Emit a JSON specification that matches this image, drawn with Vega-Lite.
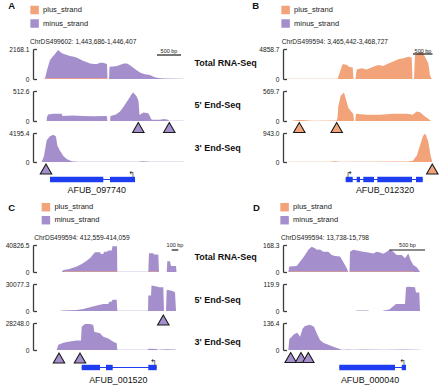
{
"$schema": "https://vega.github.io/schema/vega-lite/v6.json",
"background": "white",
"padding": {"left": 5, "top": 0, "right": 0, "bottom": 0},
"config": {
  "font": "Liberation Sans",
  "view": {"stroke": null},
  "axis": {"grid": false, "domainColor": "#3c3c3c", "domainWidth": 1.3, "tickColor": "#3c3c3c", "tickWidth": 1.3, "tickSize": -3.5, "labelPadding": 7.5, "labelFontSize": 6.6, "labelColor": "#222222", "labelFlush": false, "labelOverlap": false, "titleAngle": 0, "titleAlign": "left", "titleBaseline": "middle", "titleX": -89, "titleFontSize": 9, "titleFontWeight": "bold", "titleColor": "#111111"}
},
"datasets": {
  "strands": [{"strand": "plus_strand"}, {"strand": "minus_strand"}],
  "A_tot_m": [{"pos":200,"cov":0},{"pos":240,"cov":43},{"pos":280,"cov":650},{"pos":340,"cov":1366},{"pos":400,"cov":1648},{"pos":440,"cov":1800},{"pos":500,"cov":2100},{"pos":560,"cov":1908},{"pos":600,"cov":1821},{"pos":680,"cov":1734},{"pos":740,"cov":1669},{"pos":820,"cov":1604},{"pos":880,"cov":1539},{"pos":940,"cov":1431},{"pos":1000,"cov":1323},{"pos":1080,"cov":1214},{"pos":1140,"cov":1127},{"pos":1220,"cov":1084},{"pos":1280,"cov":1084},{"pos":1340,"cov":1171},{"pos":1400,"cov":1171},{"pos":1480,"cov":1084},{"pos":1490,"cov":0},{"pos":1520,"cov":0},{"pos":1530,"cov":889},{"pos":1600,"cov":911},{"pos":1680,"cov":932},{"pos":1760,"cov":1041},{"pos":1820,"cov":1127},{"pos":1880,"cov":1127},{"pos":1940,"cov":997},{"pos":2000,"cov":824},{"pos":2080,"cov":607},{"pos":2160,"cov":434},{"pos":2240,"cov":347},{"pos":2340,"cov":282},{"pos":2420,"cov":152},{"pos":2500,"cov":65},{"pos":2640,"cov":33},{"pos":3000,"cov":22},{"pos":3020,"cov":0}],
  "A_tot_p": [{"pos":240,"cov":0},{"pos":250,"cov":50},{"pos":1480,"cov":50},{"pos":1490,"cov":0}],
  "A_5_m": [{"pos":270,"cov":0},{"pos":280,"cov":70},{"pos":300,"cov":110},{"pos":406,"cov":123},{"pos":574,"cov":123},{"pos":590,"cov":87},{"pos":800,"cov":95},{"pos":1000,"cov":87},{"pos":1200,"cov":82},{"pos":1474,"cov":87},{"pos":1490,"cov":0},{"pos":1540,"cov":0},{"pos":1550,"cov":87},{"pos":1660,"cov":113},{"pos":1740,"cov":164},{"pos":1800,"cov":231},{"pos":1840,"cov":282},{"pos":1906,"cov":369},{"pos":1974,"cov":461},{"pos":2006,"cov":487},{"pos":2074,"cov":420},{"pos":2110,"cov":343},{"pos":2130,"cov":103},{"pos":2206,"cov":144},{"pos":2306,"cov":133},{"pos":2340,"cov":77},{"pos":2374,"cov":20},{"pos":2540,"cov":20},{"pos":2620,"cov":35},{"pos":2700,"cov":20},{"pos":2720,"cov":5},{"pos":3000,"cov":5},{"pos":3020,"cov":0}],
  "A_3_m": [{"pos":174,"cov":0},{"pos":220,"cov":881},{"pos":274,"cov":3146},{"pos":340,"cov":3734},{"pos":406,"cov":3950},{"pos":460,"cov":3692},{"pos":486,"cov":2391},{"pos":540,"cov":1636},{"pos":606,"cov":881},{"pos":674,"cov":420},{"pos":774,"cov":126},{"pos":900,"cov":42},{"pos":2100,"cov":42},{"pos":2200,"cov":105},{"pos":2340,"cov":42},{"pos":3000,"cov":34},{"pos":3020,"cov":0}],
  "B_tot_p": [{"pos":40,"cov":0},{"pos":50,"cov":49},{"pos":1100,"cov":49},{"pos":1106,"cov":389},{"pos":1140,"cov":1118},{"pos":1180,"cov":2186},{"pos":1206,"cov":2429},{"pos":1274,"cov":2284},{"pos":1340,"cov":1895},{"pos":1394,"cov":1895},{"pos":1410,"cov":0},{"pos":1450,"cov":0},{"pos":1474,"cov":1555},{"pos":1574,"cov":1749},{"pos":1674,"cov":1555},{"pos":1806,"cov":1992},{"pos":1906,"cov":2284},{"pos":2006,"cov":2089},{"pos":2106,"cov":2527},{"pos":2206,"cov":2818},{"pos":2306,"cov":3207},{"pos":2406,"cov":3352},{"pos":2506,"cov":3595},{"pos":2574,"cov":3498},{"pos":2590,"cov":0},{"pos":2620,"cov":0},{"pos":2640,"cov":3887},{"pos":2706,"cov":4178},{"pos":2754,"cov":4421},{"pos":2790,"cov":4276},{"pos":2840,"cov":3595},{"pos":2906,"cov":2527},{"pos":2940,"cov":583},{"pos":2974,"cov":0}],
  "B_5_p": [{"pos":170,"cov":0},{"pos":180,"cov":6},{"pos":300,"cov":17},{"pos":380,"cov":17},{"pos":600,"cov":6},{"pos":1074,"cov":11},{"pos":1090,"cov":57},{"pos":1106,"cov":279},{"pos":1154,"cov":479},{"pos":1220,"cov":541},{"pos":1260,"cov":410},{"pos":1306,"cov":251},{"pos":1374,"cov":165},{"pos":1406,"cov":137},{"pos":1420,"cov":0},{"pos":1446,"cov":0},{"pos":1460,"cov":137},{"pos":1674,"cov":120},{"pos":1940,"cov":120},{"pos":2206,"cov":137},{"pos":2474,"cov":137},{"pos":2594,"cov":120},{"pos":2674,"cov":182},{"pos":2740,"cov":165},{"pos":2840,"cov":85},{"pos":2940,"cov":17},{"pos":2960,"cov":0}],
  "B_3_p": [{"pos":100,"cov":0},{"pos":110,"cov":9},{"pos":940,"cov":9},{"pos":1040,"cov":28},{"pos":1140,"cov":9},{"pos":2500,"cov":19},{"pos":2600,"cov":38},{"pos":2640,"cov":141},{"pos":2674,"cov":198},{"pos":2740,"cov":538},{"pos":2794,"cov":820},{"pos":2830,"cov":915},{"pos":2860,"cov":877},{"pos":2906,"cov":660},{"pos":2954,"cov":198},{"pos":2986,"cov":0}],
  "C_tot_m": [{"pos":574,"cov":0},{"pos":606,"cov":2858},{"pos":706,"cov":4083},{"pos":774,"cov":5716},{"pos":874,"cov":8165},{"pos":974,"cov":12248},{"pos":1074,"cov":17147},{"pos":1154,"cov":22046},{"pos":1180,"cov":24496},{"pos":1240,"cov":29803},{"pos":1340,"cov":29803},{"pos":1360,"cov":27354},{"pos":1406,"cov":27354},{"pos":1420,"cov":30620},{"pos":1486,"cov":30620},{"pos":1500,"cov":32661},{"pos":1574,"cov":32661},{"pos":1590,"cov":38785},{"pos":1680,"cov":38785},{"pos":1686,"cov":408},{"pos":2306,"cov":408},{"pos":2320,"cov":28170},{"pos":2406,"cov":28170},{"pos":2420,"cov":26537},{"pos":2506,"cov":26537},{"pos":2520,"cov":0},{"pos":2674,"cov":0},{"pos":2686,"cov":16331},{"pos":2740,"cov":16331},{"pos":2760,"cov":8982},{"pos":2860,"cov":8982},{"pos":2870,"cov":0}],
  "C_tot_p": [{"pos":606,"cov":0},{"pos":620,"cov":700},{"pos":1670,"cov":700},{"pos":1686,"cov":0},{"pos":2306,"cov":0},{"pos":2320,"cov":700},{"pos":2506,"cov":700},{"pos":2520,"cov":0}],
  "C_5_m": [{"pos":540,"cov":0},{"pos":574,"cov":602},{"pos":874,"cov":1203},{"pos":1006,"cov":2105},{"pos":1140,"cov":4211},{"pos":1274,"cov":6015},{"pos":1406,"cov":7820},{"pos":1506,"cov":7820},{"pos":1520,"cov":9926},{"pos":1574,"cov":10500},{"pos":1590,"cov":12632},{"pos":1674,"cov":12632},{"pos":1686,"cov":301},{"pos":2300,"cov":301},{"pos":2306,"cov":17144},{"pos":2360,"cov":17144},{"pos":2370,"cov":28273},{"pos":2474,"cov":27370},{"pos":2526,"cov":26468},{"pos":2606,"cov":26468},{"pos":2620,"cov":0},{"pos":2660,"cov":0},{"pos":2674,"cov":23761},{"pos":2774,"cov":22558},{"pos":2840,"cov":20753},{"pos":2860,"cov":0}],
  "C_3_m": [{"pos":474,"cov":0},{"pos":506,"cov":5367},{"pos":606,"cov":7627},{"pos":706,"cov":8757},{"pos":874,"cov":9887},{"pos":960,"cov":9887},{"pos":974,"cov":24293},{"pos":1040,"cov":27118},{"pos":1140,"cov":27118},{"pos":1206,"cov":26271},{"pos":1226,"cov":19209},{"pos":1340,"cov":17514},{"pos":1406,"cov":13842},{"pos":1506,"cov":12147},{"pos":1606,"cov":8757},{"pos":1674,"cov":7062},{"pos":1686,"cov":282},{"pos":2300,"cov":282},{"pos":2310,"cov":1412},{"pos":2480,"cov":1130},{"pos":2490,"cov":282},{"pos":2674,"cov":847},{"pos":2840,"cov":565},{"pos":2860,"cov":0}],
  "D_tot_m": [{"pos":106,"cov":0},{"pos":126,"cov":34},{"pos":274,"cov":37},{"pos":340,"cov":64},{"pos":394,"cov":86},{"pos":440,"cov":106},{"pos":506,"cov":138},{"pos":574,"cov":158},{"pos":640,"cov":148},{"pos":674,"cov":138},{"pos":740,"cov":141},{"pos":806,"cov":126},{"pos":906,"cov":126},{"pos":974,"cov":106},{"pos":1040,"cov":99},{"pos":1140,"cov":96},{"pos":1220,"cov":54},{"pos":1286,"cov":17},{"pos":1300,"cov":0},{"pos":1330,"cov":0},{"pos":1340,"cov":126},{"pos":1406,"cov":138},{"pos":1506,"cov":133},{"pos":1606,"cov":126},{"pos":1706,"cov":121},{"pos":1806,"cov":116},{"pos":1874,"cov":126},{"pos":1940,"cov":121},{"pos":2006,"cov":113},{"pos":2074,"cov":126},{"pos":2140,"cov":141},{"pos":2206,"cov":126},{"pos":2274,"cov":106},{"pos":2374,"cov":106},{"pos":2440,"cov":86},{"pos":2506,"cov":116},{"pos":2554,"cov":74},{"pos":2606,"cov":44},{"pos":2674,"cov":29},{"pos":2726,"cov":8},{"pos":2740,"cov":0}],
  "D_tot_p": [{"pos":126,"cov":0},{"pos":140,"cov":3},{"pos":1280,"cov":3},{"pos":1300,"cov":0},{"pos":1330,"cov":0},{"pos":1340,"cov":3},{"pos":2600,"cov":3},{"pos":2620,"cov":0}],
  "D_5_m": [{"pos":1460,"cov":0},{"pos":1474,"cov":2.4},{"pos":1706,"cov":2.4},{"pos":1720,"cov":0},{"pos":2000,"cov":0},{"pos":2010,"cov":2.4},{"pos":2126,"cov":7},{"pos":2260,"cov":31},{"pos":2440,"cov":31},{"pos":2460,"cov":106},{"pos":2506,"cov":108},{"pos":2640,"cov":106},{"pos":2660,"cov":82},{"pos":2726,"cov":82},{"pos":2740,"cov":0}],
  "D_3_m": [{"pos":106,"cov":0},{"pos":126,"cov":55},{"pos":174,"cov":67},{"pos":220,"cov":80},{"pos":286,"cov":87},{"pos":320,"cov":75},{"pos":340,"cov":67},{"pos":394,"cov":109},{"pos":440,"cov":121},{"pos":540,"cov":127},{"pos":620,"cov":117},{"pos":674,"cov":85},{"pos":740,"cov":50},{"pos":806,"cov":37},{"pos":906,"cov":26},{"pos":1006,"cov":16},{"pos":1106,"cov":8},{"pos":1174,"cov":1.4},{"pos":1300,"cov":3},{"pos":1400,"cov":1.4},{"pos":1600,"cov":3},{"pos":2000,"cov":1.4},{"pos":2400,"cov":3},{"pos":2700,"cov":1.4},{"pos":2800,"cov":0}],
  "bars": [{"panel":"A","start":2480,"end":2960,"mid":2720,"label":"500 bp"},{"panel":"B","start":2600,"end":2990,"mid":2800,"label":"500 bp"},{"panel":"C","start":2774,"end":2906,"mid":2840,"label":"100 bp"},{"panel":"D","start":2130,"end":2840,"mid":2490,"label":"500 bp"}],
  "tri": [{"panel":"A","track":"5p","pos":2106},{"panel":"A","track":"5p","pos":2726},{"panel":"A","track":"3p","pos":260},{"panel":"B","track":"5p","pos":326},{"panel":"B","track":"5p","pos":1074},{"panel":"B","track":"3p","pos":2986},{"panel":"C","track":"5p","pos":2606},{"panel":"C","track":"3p","pos":520},{"panel":"C","track":"3p","pos":940},{"panel":"D","track":"3p","pos":154},{"panel":"D","track":"3p","pos":360},{"panel":"D","track":"3p","pos":506}],
  "genes": [{"panel":"A","gene":"AFUB_097740","start":340,"end":2040,"tss":2040,"mid":1274},{"panel":"B","gene":"AFUB_012320","start":1254,"end":2794,"tss":1254,"mid":2040},{"panel":"C","gene":"AFUB_001520","start":974,"end":2474,"tss":2474,"mid":1706},{"panel":"D","gene":"AFUB_000040","start":1126,"end":2460,"tss":2460,"mid":1740}],
  "exons": [{"panel":"A","gene":"AFUB_097740","start":340,"end":1406},{"panel":"A","gene":"AFUB_097740","start":1540,"end":2040},{"panel":"B","gene":"AFUB_012320","start":1254,"end":1394},{"panel":"B","gene":"AFUB_012320","start":1474,"end":1540},{"panel":"B","gene":"AFUB_012320","start":1606,"end":1820},{"panel":"B","gene":"AFUB_012320","start":1886,"end":2580},{"panel":"B","gene":"AFUB_012320","start":2660,"end":2794},{"panel":"C","gene":"AFUB_001520","start":974,"end":1340},{"panel":"C","gene":"AFUB_001520","start":1460,"end":1594},{"panel":"C","gene":"AFUB_001520","start":2306,"end":2474},{"panel":"D","gene":"AFUB_000040","start":1126,"end":2240},{"panel":"D","gene":"AFUB_000040","start":2374,"end":2460}]
},
"columns": 2,
"bounds": "flush",
"spacing": {"row": 12, "column": 98},
"resolve": {"scale": {"x": "independent", "y": "independent", "color": "independent"}, "legend": {"color": "independent"}, "axis": {"x": "independent", "y": "independent"}},
"concat": [
  {"width": 152, "height": 37,
   "title": {"text": "ChrDS499602: 1,443,686-1,446,407", "orient": "bottom", "anchor": "start", "frame": "group", "offset": 2.4, "dx": -3, "fontSize": 6.6, "fontWeight": "normal", "color": "#222222"},
   "data": {"name": "strands"}, "transform": [{"filter": "false"}],
   "mark": {"type": "square", "opacity": 1},
   "encoding": {"color": {"field": "strand", "type": "nominal", "scale": {"domain": ["plus_strand", "minus_strand"], "range": ["#F3A37A", "#A48FCC"]},
     "legend": {"title": "A", "orient": "none", "legendX": -24.7, "legendY": 5.5, "titleOrient": "left", "titleAnchor": "start", "titleBaseline": "middle", "titleFontSize": 9.5, "titleFontWeight": "bold", "titleColor": "#111111", "titlePadding": 14.8, "symbolType": "square", "symbolSize": 72, "symbolStrokeWidth": 0, "symbolOpacity": 1, "labelFontSize": 7.5, "labelColor": "#222222", "labelOffset": 4, "rowPadding": 4.5, "padding": 0}}}},
  {"width": 152, "height": 37,
   "title": {"text": "ChrDS499594: 3,465,442-3,468,727", "orient": "bottom", "anchor": "start", "frame": "group", "offset": 2.4, "dx": -1.3, "fontSize": 6.6, "fontWeight": "normal", "color": "#222222"},
   "data": {"name": "strands"}, "transform": [{"filter": "false"}],
   "mark": {"type": "square", "opacity": 1},
   "encoding": {"color": {"field": "strand", "type": "nominal", "scale": {"domain": ["plus_strand", "minus_strand"], "range": ["#F3A37A", "#A48FCC"]},
     "legend": {"title": "B", "orient": "none", "legendX": -30.7, "legendY": 5.5, "titleOrient": "left", "titleAnchor": "start", "titleBaseline": "middle", "titleFontSize": 9.5, "titleFontWeight": "bold", "titleColor": "#111111", "titlePadding": 21.8, "symbolType": "square", "symbolSize": 72, "symbolStrokeWidth": 0, "symbolOpacity": 1, "labelFontSize": 7.5, "labelColor": "#222222", "labelOffset": 4, "rowPadding": 4.5, "padding": 0}}}},
  {"width": 152, "height": 30,
   "layer": [
    {"data": {"name": "A_tot_m"}, "mark": {"type": "area", "opacity": 1},
     "encoding": {"x": {"field": "pos", "type": "quantitative", "scale": {"domain": [0, 3040], "nice": false, "zero": false}, "axis": null},
      "y": {"field": "cov", "type": "quantitative", "stack": null, "scale": {"domain": [0, 2168.1], "nice": false, "clamp": true}, "axis": {"values": [0, 2168.1], "title": null, "labelExpr": "datum.value == 0 ? '0' : format(datum.value, '.1f')"}},
      "color": {"datum": "minus_strand", "type": "nominal", "scale": {"domain": ["plus_strand", "minus_strand"], "range": ["#F3A37A", "#A48FCC"]}, "legend": null}}},
    {"data": {"name": "A_tot_p"}, "mark": {"type": "area", "opacity": 1},
     "encoding": {"x": {"field": "pos", "type": "quantitative", "axis": null}, "y": {"field": "cov", "type": "quantitative", "stack": null}, "color": {"datum": "plus_strand", "type": "nominal", "legend": null}}},
    {"data": {"name": "bars"}, "transform": [{"filter": "datum.panel == 'A'"}], "mark": {"type": "rule", "color": "#1a1a1a", "strokeWidth": 1.2, "yOffset": 6},
     "encoding": {"x": {"field": "start", "type": "quantitative", "axis": null}, "x2": {"field": "end"}, "y": {"datum": 2168.1, "type": "quantitative"}}},
    {"data": {"name": "bars"}, "transform": [{"filter": "datum.panel == 'A'"}], "mark": {"type": "text", "fontSize": 5.5, "color": "#1a1a1a", "baseline": "middle", "yOffset": 2},
     "encoding": {"x": {"field": "mid", "type": "quantitative", "axis": null}, "y": {"datum": 2168.1, "type": "quantitative"}, "text": {"field": "label", "type": "nominal"}}}
   ]},
  {"width": 152, "height": 30,
   "layer": [
    {"data": {"name": "B_tot_p"}, "mark": {"type": "area", "opacity": 1},
     "encoding": {"x": {"field": "pos", "type": "quantitative", "scale": {"domain": [0, 3040], "nice": false, "zero": false}, "axis": null},
      "y": {"field": "cov", "type": "quantitative", "stack": null, "scale": {"domain": [0, 4858.7], "nice": false, "clamp": true}, "axis": {"values": [0, 4858.7], "title": "Total RNA-Seq", "titleY": 13, "labelExpr": "datum.value == 0 ? '0' : format(datum.value, '.1f')"}},
      "color": {"datum": "plus_strand", "type": "nominal", "scale": {"domain": ["plus_strand", "minus_strand"], "range": ["#F3A37A", "#A48FCC"]}, "legend": null}}},
    {"data": {"name": "bars"}, "transform": [{"filter": "datum.panel == 'B'"}], "mark": {"type": "rule", "color": "#1a1a1a", "strokeWidth": 1.2, "yOffset": 5},
     "encoding": {"x": {"field": "start", "type": "quantitative", "axis": null}, "x2": {"field": "end"}, "y": {"datum": 4858.7, "type": "quantitative"}}},
    {"data": {"name": "bars"}, "transform": [{"filter": "datum.panel == 'B'"}], "mark": {"type": "text", "fontSize": 5.5, "color": "#1a1a1a", "baseline": "middle", "yOffset": 1.5},
     "encoding": {"x": {"field": "mid", "type": "quantitative", "axis": null}, "y": {"datum": 4858.7, "type": "quantitative"}, "text": {"field": "label", "type": "nominal"}}}
   ]},
  {"width": 152, "height": 30,
   "layer": [
    {"data": {"name": "A_5_m"}, "mark": {"type": "area", "opacity": 1},
     "encoding": {"x": {"field": "pos", "type": "quantitative", "scale": {"domain": [0, 3040], "nice": false, "zero": false}, "axis": null},
      "y": {"field": "cov", "type": "quantitative", "stack": null, "scale": {"domain": [0, 512.6], "nice": false, "clamp": true}, "axis": {"values": [0, 512.6], "title": null, "labelExpr": "datum.value == 0 ? '0' : format(datum.value, '.1f')"}},
      "color": {"datum": "minus_strand", "type": "nominal", "scale": {"domain": ["plus_strand", "minus_strand"], "range": ["#F3A37A", "#A48FCC"]}, "legend": null}}},
    {"data": {"name": "tri"}, "transform": [{"filter": "datum.panel == 'A' && datum.track == '5p'"}],
     "mark": {"type": "point", "shape": "triangle-up", "filled": true, "size": 130, "opacity": 1, "stroke": "#1a1a1a", "strokeWidth": 1.1, "yOffset": 6.5},
     "encoding": {"x": {"field": "pos", "type": "quantitative", "axis": null}, "y": {"datum": 0, "type": "quantitative"}, "color": {"datum": "minus_strand", "type": "nominal", "legend": null}}}
   ]},
  {"width": 152, "height": 30,
   "layer": [
    {"data": {"name": "B_5_p"}, "mark": {"type": "area", "opacity": 1},
     "encoding": {"x": {"field": "pos", "type": "quantitative", "scale": {"domain": [0, 3040], "nice": false, "zero": false}, "axis": null},
      "y": {"field": "cov", "type": "quantitative", "stack": null, "scale": {"domain": [0, 569.7], "nice": false, "clamp": true}, "axis": {"values": [0, 569.7], "title": "5' End-Seq", "titleY": 13, "labelExpr": "datum.value == 0 ? '0' : format(datum.value, '.1f')"}},
      "color": {"datum": "plus_strand", "type": "nominal", "scale": {"domain": ["plus_strand", "minus_strand"], "range": ["#F3A37A", "#A48FCC"]}, "legend": null}}},
    {"data": {"name": "tri"}, "transform": [{"filter": "datum.panel == 'B' && datum.track == '5p'"}],
     "mark": {"type": "point", "shape": "triangle-up", "filled": true, "size": 130, "opacity": 1, "stroke": "#1a1a1a", "strokeWidth": 1.1, "yOffset": 6.5},
     "encoding": {"x": {"field": "pos", "type": "quantitative", "axis": null}, "y": {"datum": 0, "type": "quantitative"}, "color": {"datum": "plus_strand", "type": "nominal", "legend": null}}}
   ]},
  {"width": 152, "height": 29,
   "layer": [
    {"data": {"name": "A_3_m"}, "mark": {"type": "area", "opacity": 1},
     "encoding": {"x": {"field": "pos", "type": "quantitative", "scale": {"domain": [0, 3040], "nice": false, "zero": false}, "axis": null},
      "y": {"field": "cov", "type": "quantitative", "stack": null, "scale": {"domain": [0, 4195.4], "nice": false, "clamp": true}, "axis": {"values": [0, 4195.4], "title": null, "labelExpr": "datum.value == 0 ? '0' : format(datum.value, '.1f')"}},
      "color": {"datum": "minus_strand", "type": "nominal", "scale": {"domain": ["plus_strand", "minus_strand"], "range": ["#F3A37A", "#A48FCC"]}, "legend": null}}},
    {"data": {"name": "tri"}, "transform": [{"filter": "datum.panel == 'A' && datum.track == '3p'"}],
     "mark": {"type": "point", "shape": "triangle-up", "filled": true, "size": 130, "opacity": 1, "stroke": "#1a1a1a", "strokeWidth": 1.1, "yOffset": 7},
     "encoding": {"x": {"field": "pos", "type": "quantitative", "axis": null}, "y": {"datum": 0, "type": "quantitative"}, "color": {"datum": "minus_strand", "type": "nominal", "legend": null}}}
   ]},
  {"width": 152, "height": 29,
   "layer": [
    {"data": {"name": "B_3_p"}, "mark": {"type": "area", "opacity": 1},
     "encoding": {"x": {"field": "pos", "type": "quantitative", "scale": {"domain": [0, 3040], "nice": false, "zero": false}, "axis": null},
      "y": {"field": "cov", "type": "quantitative", "stack": null, "scale": {"domain": [0, 943.0], "nice": false, "clamp": true}, "axis": {"values": [0, 943.0], "title": "3' End-Seq", "titleY": 14.3, "labelExpr": "datum.value == 0 ? '0' : format(datum.value, '.1f')"}},
      "color": {"datum": "plus_strand", "type": "nominal", "scale": {"domain": ["plus_strand", "minus_strand"], "range": ["#F3A37A", "#A48FCC"]}, "legend": null}}},
    {"data": {"name": "tri"}, "transform": [{"filter": "datum.panel == 'B' && datum.track == '3p'"}],
     "mark": {"type": "point", "shape": "triangle-up", "filled": true, "size": 130, "opacity": 1, "stroke": "#1a1a1a", "strokeWidth": 1.1, "yOffset": 7},
     "encoding": {"x": {"field": "pos", "type": "quantitative", "axis": null}, "y": {"datum": 0, "type": "quantitative"}, "color": {"datum": "plus_strand", "type": "nominal", "legend": null}}}
   ]},
  {"width": 152, "height": 11,
   "layer": [
    {"data": {"name": "genes"}, "transform": [{"filter": "datum.panel == 'A'"}], "mark": {"type": "rule", "color": "#1e3cf0", "strokeWidth": 1.2},
     "encoding": {"x": {"field": "start", "type": "quantitative", "scale": {"domain": [0, 3040], "nice": false, "zero": false}, "axis": null}, "x2": {"field": "end"}, "y": {"field": "gene", "type": "nominal", "scale": {"paddingOuter": 0.52, "paddingInner": 0}, "axis": null}}},
    {"data": {"name": "exons"}, "transform": [{"filter": "datum.panel == 'A'"}], "mark": {"type": "rect", "color": "#1e3cf0"},
     "encoding": {"x": {"field": "start", "type": "quantitative", "axis": null}, "x2": {"field": "end"}, "y": {"field": "gene", "type": "nominal", "axis": null}}},
    {"data": {"name": "genes"}, "transform": [{"filter": "datum.panel == 'A'"}], "mark": {"type": "text", "text": "↰", "align": "right", "baseline": "alphabetic", "dy": -2.7, "fontSize": 8, "font": "DejaVu Sans", "color": "#333333"},
     "encoding": {"x": {"field": "tss", "type": "quantitative", "axis": null}, "y": {"field": "gene", "type": "nominal", "axis": null}}},
    {"data": {"name": "genes"}, "transform": [{"filter": "datum.panel == 'A'"}], "mark": {"type": "text", "baseline": "middle", "dy": 10.5, "fontSize": 8.9, "color": "#111111"},
     "encoding": {"x": {"field": "mid", "type": "quantitative", "axis": null}, "y": {"field": "gene", "type": "nominal", "axis": null}, "text": {"field": "gene", "type": "nominal"}}}
   ]},
  {"width": 152, "height": 11,
   "layer": [
    {"data": {"name": "genes"}, "transform": [{"filter": "datum.panel == 'B'"}], "mark": {"type": "rule", "color": "#1e3cf0", "strokeWidth": 1.2},
     "encoding": {"x": {"field": "start", "type": "quantitative", "scale": {"domain": [0, 3040], "nice": false, "zero": false}, "axis": null}, "x2": {"field": "end"}, "y": {"field": "gene", "type": "nominal", "scale": {"paddingOuter": 0.52, "paddingInner": 0}, "axis": null}}},
    {"data": {"name": "exons"}, "transform": [{"filter": "datum.panel == 'B'"}], "mark": {"type": "rect", "color": "#1e3cf0"},
     "encoding": {"x": {"field": "start", "type": "quantitative", "axis": null}, "x2": {"field": "end"}, "y": {"field": "gene", "type": "nominal", "axis": null}}},
    {"data": {"name": "genes"}, "transform": [{"filter": "datum.panel == 'B'"}], "mark": {"type": "text", "text": "↱", "align": "left", "baseline": "alphabetic", "dy": -2.7, "fontSize": 8, "font": "DejaVu Sans", "color": "#333333"},
     "encoding": {"x": {"field": "tss", "type": "quantitative", "axis": null}, "y": {"field": "gene", "type": "nominal", "axis": null}}},
    {"data": {"name": "genes"}, "transform": [{"filter": "datum.panel == 'B'"}], "mark": {"type": "text", "baseline": "middle", "dy": 10.5, "fontSize": 8.9, "color": "#111111"},
     "encoding": {"x": {"field": "mid", "type": "quantitative", "axis": null}, "y": {"field": "gene", "type": "nominal", "axis": null}, "text": {"field": "gene", "type": "nominal"}}}
   ]},
  {"width": 152, "height": 36,
   "title": {"text": "ChrDS499594: 412,559-414,059", "orient": "bottom", "anchor": "start", "frame": "group", "offset": 2.4, "dx": 1.3, "fontSize": 6.6, "fontWeight": "normal", "color": "#222222"},
   "data": {"name": "strands"}, "transform": [{"filter": "false"}],
   "mark": {"type": "square", "opacity": 1},
   "encoding": {"color": {"field": "strand", "type": "nominal", "scale": {"domain": ["plus_strand", "minus_strand"], "range": ["#F3A37A", "#A48FCC"]},
     "legend": {"title": "C", "orient": "none", "legendX": -24.7, "legendY": 5.7, "titleOrient": "left", "titleAnchor": "start", "titleBaseline": "top", "titleFontSize": 9.5, "titleFontWeight": "bold", "titleColor": "#111111", "titlePadding": 26.1, "symbolType": "square", "symbolSize": 72, "symbolStrokeWidth": 0, "symbolOpacity": 1, "labelFontSize": 7.5, "labelColor": "#222222", "labelOffset": 4, "rowPadding": 4, "padding": 0}}}},
  {"width": 152, "height": 36,
   "title": {"text": "ChrDS499594: 13,738-15,798", "orient": "bottom", "anchor": "start", "frame": "group", "offset": 2.4, "dx": -2, "fontSize": 6.6, "fontWeight": "normal", "color": "#222222"},
   "data": {"name": "strands"}, "transform": [{"filter": "false"}],
   "mark": {"type": "square", "opacity": 1},
   "encoding": {"color": {"field": "strand", "type": "nominal", "scale": {"domain": ["plus_strand", "minus_strand"], "range": ["#F3A37A", "#A48FCC"]},
     "legend": {"title": "D", "orient": "none", "legendX": -30, "legendY": 5.7, "titleOrient": "left", "titleAnchor": "start", "titleBaseline": "top", "titleFontSize": 9.5, "titleFontWeight": "bold", "titleColor": "#111111", "titlePadding": 20.1, "symbolType": "square", "symbolSize": 72, "symbolStrokeWidth": 0, "symbolOpacity": 1, "labelFontSize": 7.5, "labelColor": "#222222", "labelOffset": 4, "rowPadding": 4, "padding": 0}}}},
  {"width": 152, "height": 27,
   "layer": [
    {"data": {"name": "C_tot_m"}, "mark": {"type": "area", "opacity": 1},
     "encoding": {"x": {"field": "pos", "type": "quantitative", "scale": {"domain": [0, 3040], "nice": false, "zero": false}, "axis": null},
      "y": {"field": "cov", "type": "quantitative", "stack": null, "scale": {"domain": [0, 40826.5], "nice": false, "clamp": true}, "axis": {"values": [0, 40826.5], "title": null, "labelExpr": "datum.value == 0 ? '0' : format(datum.value, '.1f')"}},
      "color": {"datum": "minus_strand", "type": "nominal", "scale": {"domain": ["plus_strand", "minus_strand"], "range": ["#F3A37A", "#A48FCC"]}, "legend": null}}},
    {"data": {"name": "C_tot_p"}, "mark": {"type": "area", "opacity": 1},
     "encoding": {"x": {"field": "pos", "type": "quantitative", "axis": null}, "y": {"field": "cov", "type": "quantitative", "stack": null}, "color": {"datum": "plus_strand", "type": "nominal", "legend": null}}},
    {"data": {"name": "bars"}, "transform": [{"filter": "datum.panel == 'C'"}], "mark": {"type": "rule", "color": "#1a1a1a", "strokeWidth": 1.2, "yOffset": 5},
     "encoding": {"x": {"field": "start", "type": "quantitative", "axis": null}, "x2": {"field": "end"}, "y": {"datum": 40826.5, "type": "quantitative"}}},
    {"data": {"name": "bars"}, "transform": [{"filter": "datum.panel == 'C'"}], "mark": {"type": "text", "fontSize": 5.5, "color": "#1a1a1a", "baseline": "middle", "yOffset": 0},
     "encoding": {"x": {"field": "mid", "type": "quantitative", "axis": null}, "y": {"datum": 40826.5, "type": "quantitative"}, "text": {"field": "label", "type": "nominal"}}}
   ]},
  {"width": 152, "height": 27,
   "layer": [
    {"data": {"name": "D_tot_m"}, "mark": {"type": "area", "opacity": 1},
     "encoding": {"x": {"field": "pos", "type": "quantitative", "scale": {"domain": [0, 3040], "nice": false, "zero": false}, "axis": null},
      "y": {"field": "cov", "type": "quantitative", "stack": null, "scale": {"domain": [0, 168.3], "nice": false, "clamp": true}, "axis": {"values": [0, 168.3], "title": "Total RNA-Seq", "titleY": 11.7, "labelExpr": "datum.value == 0 ? '0' : format(datum.value, '.1f')"}},
      "color": {"datum": "minus_strand", "type": "nominal", "scale": {"domain": ["plus_strand", "minus_strand"], "range": ["#F3A37A", "#A48FCC"]}, "legend": null}}},
    {"data": {"name": "D_tot_p"}, "mark": {"type": "area", "opacity": 1},
     "encoding": {"x": {"field": "pos", "type": "quantitative", "axis": null}, "y": {"field": "cov", "type": "quantitative", "stack": null}, "color": {"datum": "plus_strand", "type": "nominal", "legend": null}}},
    {"data": {"name": "bars"}, "transform": [{"filter": "datum.panel == 'D'"}], "mark": {"type": "rule", "color": "#1a1a1a", "strokeWidth": 1.2, "yOffset": 5},
     "encoding": {"x": {"field": "start", "type": "quantitative", "axis": null}, "x2": {"field": "end"}, "y": {"datum": 168.3, "type": "quantitative"}}},
    {"data": {"name": "bars"}, "transform": [{"filter": "datum.panel == 'D'"}], "mark": {"type": "text", "fontSize": 5.5, "color": "#1a1a1a", "baseline": "middle", "yOffset": 0},
     "encoding": {"x": {"field": "mid", "type": "quantitative", "axis": null}, "y": {"datum": 168.3, "type": "quantitative"}, "text": {"field": "label", "type": "nominal"}}}
   ]},
  {"width": 152, "height": 27,
   "layer": [
    {"data": {"name": "C_5_m"}, "mark": {"type": "area", "opacity": 1},
     "encoding": {"x": {"field": "pos", "type": "quantitative", "scale": {"domain": [0, 3040], "nice": false, "zero": false}, "axis": null},
      "y": {"field": "cov", "type": "quantitative", "stack": null, "scale": {"domain": [0, 30077.3], "nice": false, "clamp": true}, "axis": {"values": [0, 30077.3], "title": null, "labelExpr": "datum.value == 0 ? '0' : format(datum.value, '.1f')"}},
      "color": {"datum": "minus_strand", "type": "nominal", "scale": {"domain": ["plus_strand", "minus_strand"], "range": ["#F3A37A", "#A48FCC"]}, "legend": null}}},
    {"data": {"name": "tri"}, "transform": [{"filter": "datum.panel == 'C' && datum.track == '5p'"}],
     "mark": {"type": "point", "shape": "triangle-up", "filled": true, "size": 130, "opacity": 1, "stroke": "#1a1a1a", "strokeWidth": 1.1, "yOffset": 9},
     "encoding": {"x": {"field": "pos", "type": "quantitative", "axis": null}, "y": {"datum": 0, "type": "quantitative"}, "color": {"datum": "minus_strand", "type": "nominal", "legend": null}}}
   ]},
  {"width": 152, "height": 27,
   "layer": [
    {"data": {"name": "D_5_m"}, "mark": {"type": "area", "opacity": 1},
     "encoding": {"x": {"field": "pos", "type": "quantitative", "scale": {"domain": [0, 3040], "nice": false, "zero": false}, "axis": null},
      "y": {"field": "cov", "type": "quantitative", "stack": null, "scale": {"domain": [0, 119.9], "nice": false, "clamp": true}, "axis": {"values": [0, 119.9], "title": "5' End-Seq", "titleY": 15.3, "labelExpr": "datum.value == 0 ? '0' : format(datum.value, '.1f')"}},
      "color": {"datum": "minus_strand", "type": "nominal", "scale": {"domain": ["plus_strand", "minus_strand"], "range": ["#F3A37A", "#A48FCC"]}, "legend": null}}}
   ]},
  {"width": 152, "height": 27,
   "layer": [
    {"data": {"name": "C_3_m"}, "mark": {"type": "area", "opacity": 1},
     "encoding": {"x": {"field": "pos", "type": "quantitative", "scale": {"domain": [0, 3040], "nice": false, "zero": false}, "axis": null},
      "y": {"field": "cov", "type": "quantitative", "stack": null, "scale": {"domain": [0, 28248.0], "nice": false, "clamp": true}, "axis": {"values": [0, 28248.0], "title": null, "labelExpr": "datum.value == 0 ? '0' : format(datum.value, '.1f')"}},
      "color": {"datum": "minus_strand", "type": "nominal", "scale": {"domain": ["plus_strand", "minus_strand"], "range": ["#F3A37A", "#A48FCC"]}, "legend": null}}},
    {"data": {"name": "tri"}, "transform": [{"filter": "datum.panel == 'C' && datum.track == '3p'"}],
     "mark": {"type": "point", "shape": "triangle-up", "filled": true, "size": 130, "opacity": 1, "stroke": "#1a1a1a", "strokeWidth": 1.1, "yOffset": 8},
     "encoding": {"x": {"field": "pos", "type": "quantitative", "axis": null}, "y": {"datum": 0, "type": "quantitative"}, "color": {"datum": "minus_strand", "type": "nominal", "legend": null}}}
   ]},
  {"width": 152, "height": 27,
   "layer": [
    {"data": {"name": "D_3_m"}, "mark": {"type": "area", "opacity": 1},
     "encoding": {"x": {"field": "pos", "type": "quantitative", "scale": {"domain": [0, 3040], "nice": false, "zero": false}, "axis": null},
      "y": {"field": "cov", "type": "quantitative", "stack": null, "scale": {"domain": [0, 136.4], "nice": false, "clamp": true}, "axis": {"values": [0, 136.4], "title": "3' End-Seq", "titleY": 18.7, "labelExpr": "datum.value == 0 ? '0' : format(datum.value, '.1f')"}},
      "color": {"datum": "minus_strand", "type": "nominal", "scale": {"domain": ["plus_strand", "minus_strand"], "range": ["#F3A37A", "#A48FCC"]}, "legend": null}}},
    {"data": {"name": "tri"}, "transform": [{"filter": "datum.panel == 'D' && datum.track == '3p'"}],
     "mark": {"type": "point", "shape": "triangle-up", "filled": true, "size": 130, "opacity": 1, "stroke": "#1a1a1a", "strokeWidth": 1.1, "yOffset": 7.5},
     "encoding": {"x": {"field": "pos", "type": "quantitative", "axis": null}, "y": {"datum": 0, "type": "quantitative"}, "color": {"datum": "minus_strand", "type": "nominal", "legend": null}}}
   ]},
  {"width": 152, "height": 11,
   "layer": [
    {"data": {"name": "genes"}, "transform": [{"filter": "datum.panel == 'C'"}], "mark": {"type": "rule", "color": "#1e3cf0", "strokeWidth": 1.2},
     "encoding": {"x": {"field": "start", "type": "quantitative", "scale": {"domain": [0, 3040], "nice": false, "zero": false}, "axis": null}, "x2": {"field": "end"}, "y": {"field": "gene", "type": "nominal", "scale": {"paddingOuter": 0.52, "paddingInner": 0}, "axis": null}}},
    {"data": {"name": "exons"}, "transform": [{"filter": "datum.panel == 'C'"}], "mark": {"type": "rect", "color": "#1e3cf0"},
     "encoding": {"x": {"field": "start", "type": "quantitative", "axis": null}, "x2": {"field": "end"}, "y": {"field": "gene", "type": "nominal", "axis": null}}},
    {"data": {"name": "genes"}, "transform": [{"filter": "datum.panel == 'C'"}], "mark": {"type": "text", "text": "↰", "align": "right", "baseline": "alphabetic", "dy": -2.7, "fontSize": 8, "font": "DejaVu Sans", "color": "#333333"},
     "encoding": {"x": {"field": "tss", "type": "quantitative", "axis": null}, "y": {"field": "gene", "type": "nominal", "axis": null}}},
    {"data": {"name": "genes"}, "transform": [{"filter": "datum.panel == 'C'"}], "mark": {"type": "text", "baseline": "middle", "dy": 12.5, "fontSize": 8.9, "color": "#111111"},
     "encoding": {"x": {"field": "mid", "type": "quantitative", "axis": null}, "y": {"field": "gene", "type": "nominal", "axis": null}, "text": {"field": "gene", "type": "nominal"}}}
   ]},
  {"width": 152, "height": 11,
   "layer": [
    {"data": {"name": "genes"}, "transform": [{"filter": "datum.panel == 'D'"}], "mark": {"type": "rule", "color": "#1e3cf0", "strokeWidth": 1.2},
     "encoding": {"x": {"field": "start", "type": "quantitative", "scale": {"domain": [0, 3040], "nice": false, "zero": false}, "axis": null}, "x2": {"field": "end"}, "y": {"field": "gene", "type": "nominal", "scale": {"paddingOuter": 0.52, "paddingInner": 0}, "axis": null}}},
    {"data": {"name": "exons"}, "transform": [{"filter": "datum.panel == 'D'"}], "mark": {"type": "rect", "color": "#1e3cf0"},
     "encoding": {"x": {"field": "start", "type": "quantitative", "axis": null}, "x2": {"field": "end"}, "y": {"field": "gene", "type": "nominal", "axis": null}}},
    {"data": {"name": "genes"}, "transform": [{"filter": "datum.panel == 'D'"}], "mark": {"type": "text", "text": "↰", "align": "right", "baseline": "alphabetic", "dy": -2.7, "fontSize": 8, "font": "DejaVu Sans", "color": "#333333"},
     "encoding": {"x": {"field": "tss", "type": "quantitative", "axis": null}, "y": {"field": "gene", "type": "nominal", "axis": null}}},
    {"data": {"name": "genes"}, "transform": [{"filter": "datum.panel == 'D'"}], "mark": {"type": "text", "baseline": "middle", "dy": 12.5, "fontSize": 8.9, "color": "#111111"},
     "encoding": {"x": {"field": "mid", "type": "quantitative", "axis": null}, "y": {"field": "gene", "type": "nominal", "axis": null}, "text": {"field": "gene", "type": "nominal"}}}
   ]}
]
}
